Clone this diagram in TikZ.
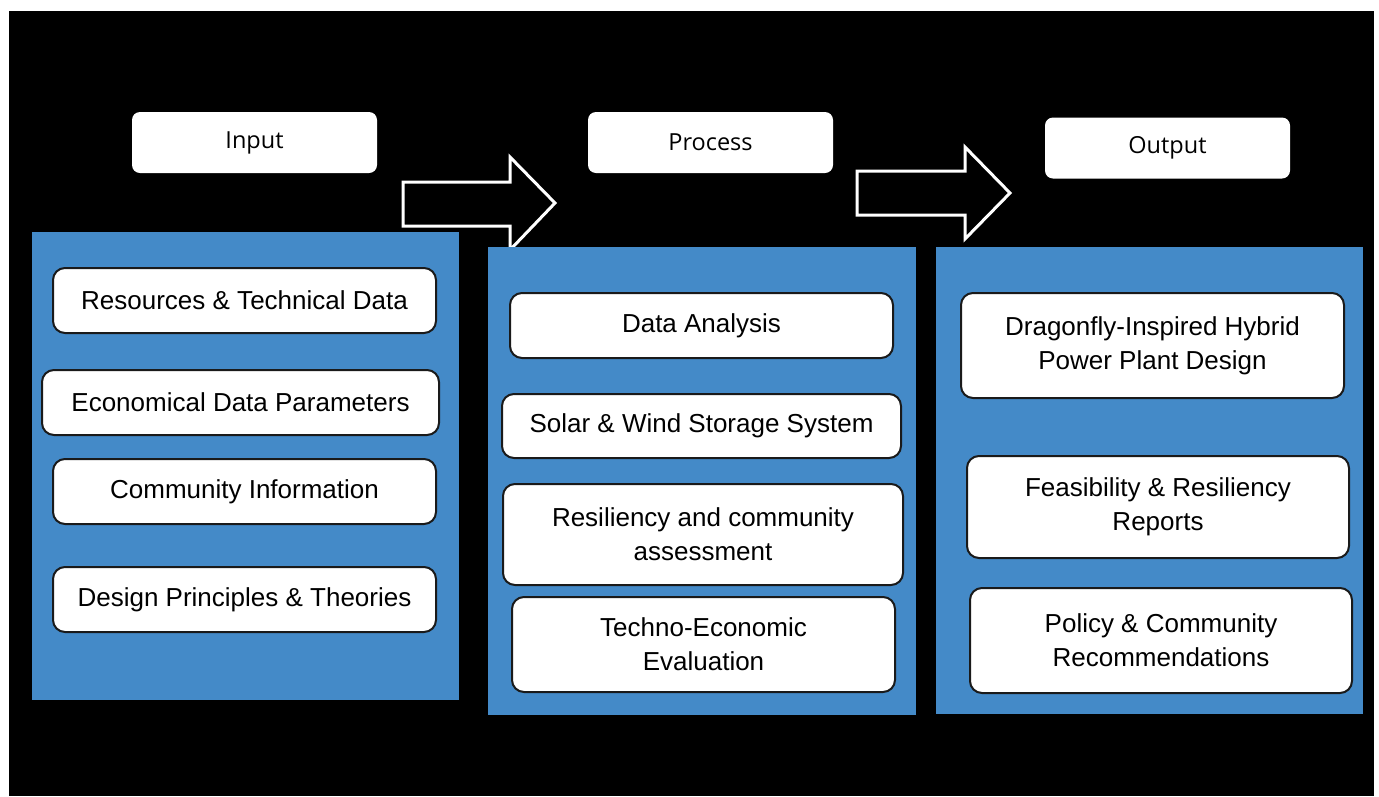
\documentclass[tikz,border=0pt]{standalone}
\usepackage{fontspec}
\setmainfont{Liberation Sans}
\newfontfamily\headfont{Open Sans}
\usepackage{xcolor}
\usepackage{tikz}
\usetikzlibrary{positioning}
\definecolor{panelblue}{HTML}{448AC8}
\definecolor{boxline}{HTML}{1A1A1A}

\begin{document}
\begin{tikzpicture}[
    x=1pt, y=-1pt,
    font=\fontsize{26}{34}\selectfont,
    header/.style={rectangle, rounded corners=8pt, fill=white, draw=none,
                   font=\headfont\fontsize{23.5}{28}\selectfont,
                   minimum width=245pt, minimum height=61pt},
    panel/.style={rectangle, fill=panelblue, draw=none, inner sep=0pt},
    item/.style={rectangle, rounded corners=12pt, draw=boxline, line width=2pt,
                 fill=white, align=center, inner sep=0pt},
    blockarrow/.style={draw=white, line width=3pt, fill=black, line join=miter}
  ]
    \useasboundingbox (0,0) rectangle (1379,796);
    \fill[black] (9,11) rectangle (1374,796);

    % column headers
    \node[header] (inhead)   at (254.5,142.5) {Input};
    \node[header] (prochead) at (710.5,142.5) {Process};
    \node[header] (outhead)  at (1167.5,148)  {Output};

    % block arrows
    \draw[blockarrow] (403,182) -- (510,182) -- (510,157) -- (555,203)
      -- (510,250) -- (510,226) -- (403,226) -- cycle;
    \draw[blockarrow] (857,171) -- (965,171) -- (965,147) -- (1010,193)
      -- (965,239) -- (965,215) -- (857,215) -- cycle;

    % panels
    \node[panel, minimum width=427pt, minimum height=468pt] (inpanel)   at (245.5,466)  {};
    \node[panel, minimum width=428pt, minimum height=468pt] (procpanel) at (702,481)    {};
    \node[panel, minimum width=427pt, minimum height=467pt] (outpanel)  at (1149.5,480.5) {};

    % input items
    \node[item, minimum width=383pt, minimum height=65pt] (res) at (244.5,300.5) {Resources \& Technical Data};
    \node[item, minimum width=397pt, minimum height=65pt] (eco) at (240.5,402.5) {Economical Data Parameters};
    \node[item, minimum width=383pt, minimum height=65pt] (com) at (244.5,491.5) {Community Information};
    \node[item, minimum width=383pt, minimum height=65pt] (des) at (244.5,599.5) {Design Principles \& Theories};

    % process items
    \node[item, minimum width=383pt, minimum height=65pt]  (ana)   at (701.5,325.5) {Data Analysis};
    \node[item, minimum width=399pt, minimum height=64pt]  (sol)   at (701.5,426)   {Solar \& Wind Storage System};
    \node[item, minimum width=400pt, minimum height=101pt] (resil) at (703,534.5)   {Resiliency and community\\assessment};
    \node[item, minimum width=383pt, minimum height=95pt]  (tech)  at (703.5,644.5) {Techno-Economic\\Evaluation};

    % output items
    \node[item, minimum width=383pt, minimum height=105pt] (dragon) at (1152.5,345.5) {Dragonfly-Inspired Hybrid\\Power Plant Design};
    \node[item, minimum width=382pt, minimum height=102pt] (feas)   at (1158,507)     {Feasibility \& Resiliency\\Reports};
    \node[item, minimum width=382pt, minimum height=105pt] (pol)    at (1161,640.5)   {Policy \& Community\\Recommendations};
\end{tikzpicture}
\end{document}
